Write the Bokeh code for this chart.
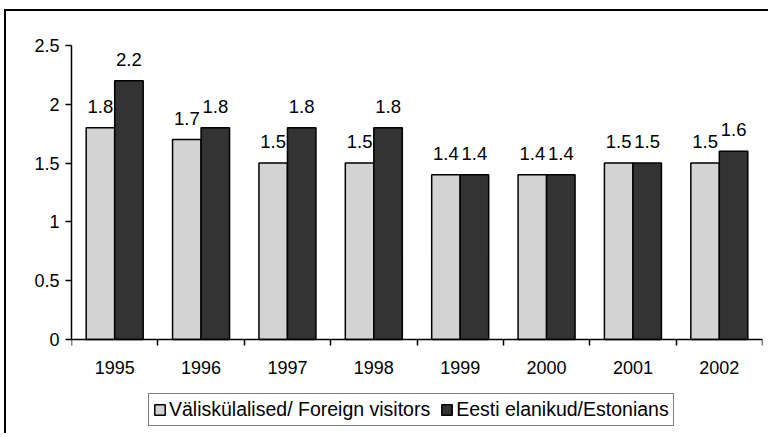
from bokeh.plotting import figure
from bokeh.models import (ColumnDataSource, FixedTicker, Legend, LegendItem, Range1d, LinearAxis)
from bokeh.transform import dodge
from bokeh.core.properties import value
from bokeh.embed import file_html
from bokeh.resources import INLINE

years = ["1995", "1996", "1997", "1998", "1999", "2000", "2001", "2002"]
visitors = [1.8, 1.7, 1.5, 1.5, 1.4, 1.4, 1.5, 1.5]
estonians = [2.2, 1.8, 1.8, 1.8, 1.4, 1.4, 1.5, 1.6]
y_ticks = [0, 0.5, 1, 1.5, 2, 2.5]
y_tick_labels = ["0", "0.5", "1", "1.5", "2", "2.5"]
series_names = ["Väliskülalised/ Foreign visitors", "Eesti elanikud/Estonians"]

FONT = "Liberation Sans"

pos = [i + 0.5 for i in range(len(years))]
src = ColumnDataSource(dict(
    x=pos, years=years, v=visitors, e=estonians,
    vl=[f"{a:g}" for a in visitors], el=[f"{a:g}" for a in estonians],
))

p = figure(width=764, height=424, output_backend="svg", toolbar_location=None,
           x_range=Range1d(0, len(years)), y_range=Range1d(-0.816, 2.5),
           min_border_left=65, min_border_right=8, min_border_top=34, min_border_bottom=0,
           x_axis_type=None, y_axis_type=None)
p.styles = {"margin-left": "4px", "margin-top": "9px",
            "border-left": "2px solid black", "border-top": "2px solid black",
            "border-right": "0px none", "border-bottom": "0px none"}
p.outline_line_color = None
p.grid.visible = False
p.background_fill_color = "white"
p.border_fill_color = "white"

bw = 0.33
r1 = p.vbar(x=dodge("x", -bw / 2, range=p.x_range), top="v", width=bw, source=src,
            fill_color="#D3D3D3", line_color="black", line_width=1.5)
r2 = p.vbar(x=dodge("x", bw / 2, range=p.x_range), top="e", width=bw, source=src,
            fill_color="#333333", line_color="black", line_width=1.5)

p.text(x=dodge("x", -bw / 2, range=p.x_range), y="v", text="vl", source=src,
       text_align="center", text_baseline="bottom", y_offset=-15,
       text_font=value(FONT), text_font_size="18.5px", text_color="black")
p.text(x=dodge("x", bw / 2, range=p.x_range), y="e", text="el", source=src,
       text_align="center", text_baseline="bottom", y_offset=-15,
       text_font=value(FONT), text_font_size="18.5px", text_color="black")

yax = LinearAxis(ticker=FixedTicker(ticks=y_ticks), bounds=(0, 2.5))
yax.major_label_overrides = {t: l for t, l in zip(y_ticks, y_tick_labels)}
yax.major_label_text_font = FONT
yax.major_label_text_font_size = "18px"
yax.major_label_text_color = "black"
yax.axis_line_color = "black"
yax.axis_line_width = 1.5
yax.major_tick_line_color = "black"
yax.major_tick_line_width = 1.5
yax.major_tick_out = 6
yax.major_tick_in = 0
yax.minor_tick_line_color = None
yax.major_label_standoff = 6
p.add_layout(yax, "left")

xax = LinearAxis(ticker=FixedTicker(ticks=pos, minor_ticks=list(range(len(years) + 1))),
                 fixed_location=0)
xax.major_label_overrides = {x: y for x, y in zip(pos, years)}
xax.major_label_text_font = FONT
xax.major_label_text_font_size = "18px"
xax.major_label_text_color = "black"
xax.axis_line_color = "black"
xax.axis_line_width = 1.5
xax.major_tick_line_color = None
xax.major_tick_out = 0
xax.major_tick_in = 0
xax.minor_tick_line_color = "black"
xax.minor_tick_line_width = 1.5
xax.minor_tick_out = 6
xax.minor_tick_in = 0
xax.major_label_standoff = 15
p.add_layout(xax, "below")

legend = Legend(items=[LegendItem(label=series_names[0], renderers=[r1]),
                       LegendItem(label=series_names[1], renderers=[r2])],
                orientation="horizontal", location=(77, 9),
                label_text_font=FONT, label_text_font_size="19.5px",
                label_text_color="black", glyph_width=13, glyph_height=13,
                label_standoff=3, spacing=10, padding=4, margin=0,
                border_line_color="black", border_line_width=1,
                background_fill_alpha=1, label_height=16)
p.add_layout(legend, "center")

open("out.html", "w").write(file_html(p, INLINE))
